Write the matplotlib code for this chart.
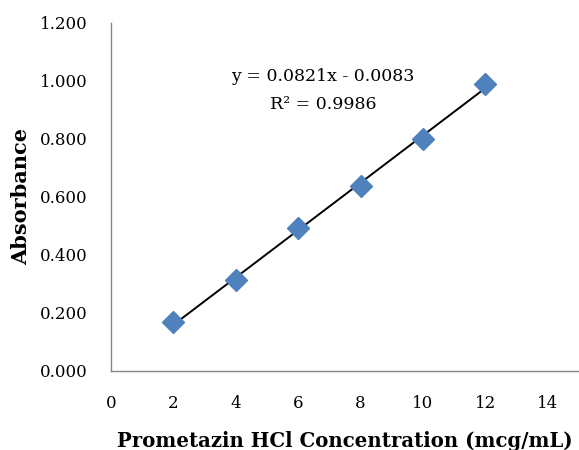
import numpy as np
import matplotlib
matplotlib.use("Agg")
import matplotlib.pyplot as plt

# concentration (mcg/mL) and absorbance
conc = [2, 4, 6, 8, 10, 12]
absorbance = [0.169, 0.313, 0.493, 0.638, 0.800, 0.991]
x_ticks = [0, 2, 4, 6, 8, 10, 12, 14]
y_ticks = [0.0, 0.2, 0.4, 0.6, 0.8, 1.0, 1.2]
eq_text = "y = 0.0821x - 0.0083"
r2_text = "R² = 0.9986"

plt.rcParams['font.family'] = ['DejaVu Serif']

fig = plt.figure(figsize=(5.79, 4.5), dpi=100)
ax = fig.add_axes([0.1917, 0.1756, 0.8083, 0.7733])

# linear trendline
slope, icpt = np.polyfit(conc, absorbance, 1)
xs = np.array([conc[0], conc[-1]])
ax.plot(xs, slope * xs + icpt, color='black', lw=1.4, zorder=2)

ax.plot(conc, absorbance, linestyle='none', marker='D', markersize=11,
        color='#4F81BD', markeredgecolor='#4F81BD', zorder=3)

ax.set_xlim(0, 15)
ax.set_ylim(0, 1.2)
ax.set_xticks(x_ticks)
ax.set_yticks(y_ticks)
ax.set_yticklabels(['%.3f' % v for v in y_ticks])
ax.tick_params(axis='both', length=0, labelsize=12)
ax.tick_params(axis='x', pad=17)
ax.tick_params(axis='y', pad=17)

for s in ['top', 'right']:
    ax.spines[s].set_visible(False)
for s in ['left', 'bottom']:
    ax.spines[s].set_color('#868686')
    ax.spines[s].set_linewidth(1.0)

ax.set_xlabel('Prometazin HCl Concentration (mcg/mL)', fontsize=14.2,
              fontweight='bold', labelpad=14)
ax.set_ylabel('Absorbance', fontsize=15, fontweight='bold', labelpad=6)

ax.text(6.8, 1.015, eq_text, fontsize=12.5, ha='center', va='center')
ax.text(6.8, 0.918, r2_text, fontsize=12.5, ha='center', va='center')

fig.savefig('out.png', dpi=100)
